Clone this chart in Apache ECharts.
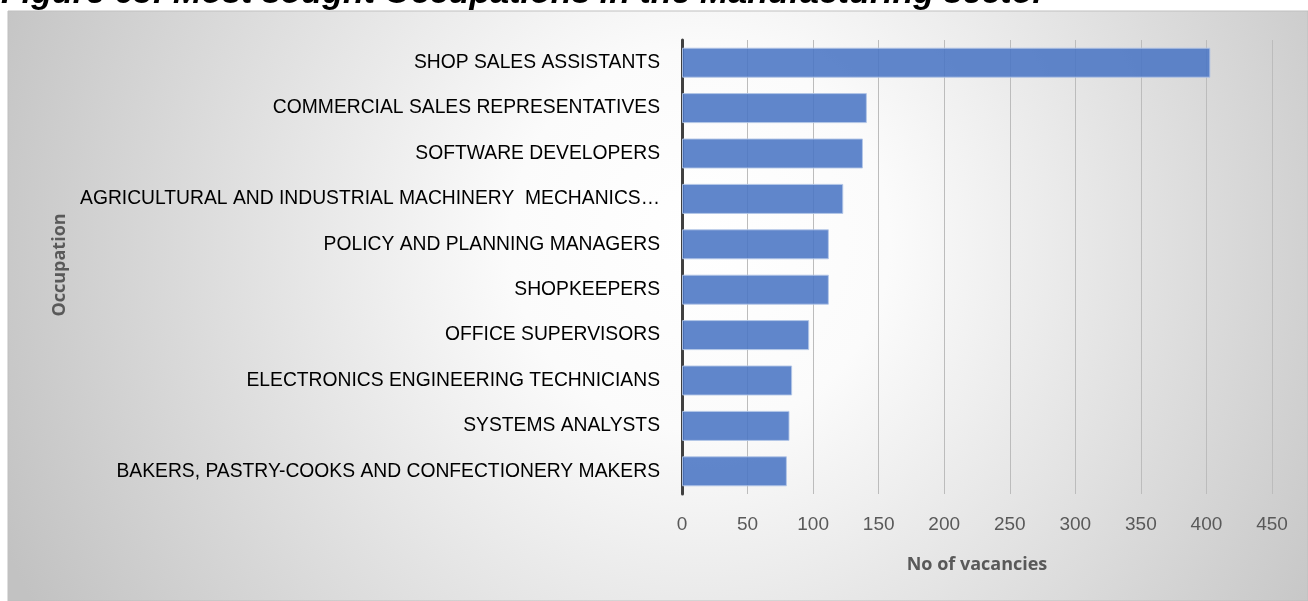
<!DOCTYPE html>
<html>
<head>
<meta charset="utf-8">
<script src="https://cdn.jsdelivr.net/npm/echarts@6/dist/echarts.min.js"></script>
<style>
html,body{margin:0;padding:0;background:#fff;}
#chart{width:1308px;height:601px;}
</style>
</head>
<body>
<div id="chart"></div>
<script>
const titleText = 'Figure 65: Most sought Occupations in the Manufacturing sector';
const categories = [
  'SHOP SALES ASSISTANTS',
  'COMMERCIAL SALES REPRESENTATIVES',
  'SOFTWARE DEVELOPERS',
  'AGRICULTURAL AND INDUSTRIAL MACHINERY  MECHANICS…',
  'POLICY AND PLANNING MANAGERS',
  'SHOPKEEPERS',
  'OFFICE SUPERVISORS',
  'ELECTRONICS ENGINEERING TECHNICIANS',
  'SYSTEMS ANALYSTS',
  'BAKERS, PASTRY-COOKS AND CONFECTIONERY MAKERS'
];
const vacancies = [403, 141, 138, 123, 112, 112, 97, 84, 82, 80];
const xAxisName = 'No of vacancies';
const yAxisName = 'Occupation';

const chart = echarts.init(document.getElementById('chart'), null, {renderer: 'canvas'});
const labelFont = '"Liberation Sans", Arial, sans-serif';
const option = {
  animation: false,
  graphic: [
    {
      type: 'rect', z: -10, silent: true,
      shape: {x: 8, y: 11, width: 1300, height: 590},
      style: {
        fill: {
          type: 'radial', x: 700, y: 240, r: 760, global: true,
          colorStops: [
            {offset: 0, color: '#ffffff'},
            {offset: 0.25, color: '#fbfbfb'},
            {offset: 1, color: '#c2c2c2'}
          ]
        },
        stroke: '#bfbfbf', lineWidth: 1
      }
    },
    {
      type: 'text', silent: true, z: 10,
      x: 1, y: 11,
      style: {
        text: titleText,
        font: 'italic bold 34px "Liberation Sans", Arial, sans-serif',
        fill: '#000000',
        verticalAlign: 'bottom'
      }
    },
    {
      type: 'text', silent: true,
      x: 60, y: 265, rotation: Math.PI / 2,
      style: {
        text: yAxisName,
        font: 'bold 18px "Open Sans", "Liberation Sans", sans-serif',
        fill: '#595959',
        align: 'center', verticalAlign: 'middle'
      }
    }
  ],
  grid: {left: 682, right: 36, top: 40, bottom: 107, containLabel: false},
  xAxis: {
    type: 'value', min: 0, max: 450, interval: 50,
    name: xAxisName, nameLocation: 'middle', nameGap: 62,
    nameTextStyle: {fontFamily: '"Open Sans", "Liberation Sans", sans-serif', fontWeight: 'bold', fontSize: 18, color: '#595959'},
    axisLine: {show: false},
    axisTick: {show: false},
    axisLabel: {fontFamily: labelFont, fontSize: 19, color: '#595959', margin: 21},
    splitLine: {show: true, lineStyle: {color: '#bcbcbc', width: 1}}
  },
  yAxis: {
    type: 'category', data: categories, inverse: true,
    axisLine: {show: true, lineStyle: {color: '#404040', width: 3}},
    axisTick: {show: false},
    axisLabel: {fontFamily: labelFont, fontSize: 19.3, color: '#000000', margin: 22}
  },
  series: [{
    type: 'bar', data: vacancies, barWidth: 30,
    itemStyle: {color: 'rgba(74,117,196,0.88)', borderColor: 'rgba(180,199,231,0.9)', borderWidth: 1}
  }]
};
chart.setOption(option);
</script>
</body>
</html>
